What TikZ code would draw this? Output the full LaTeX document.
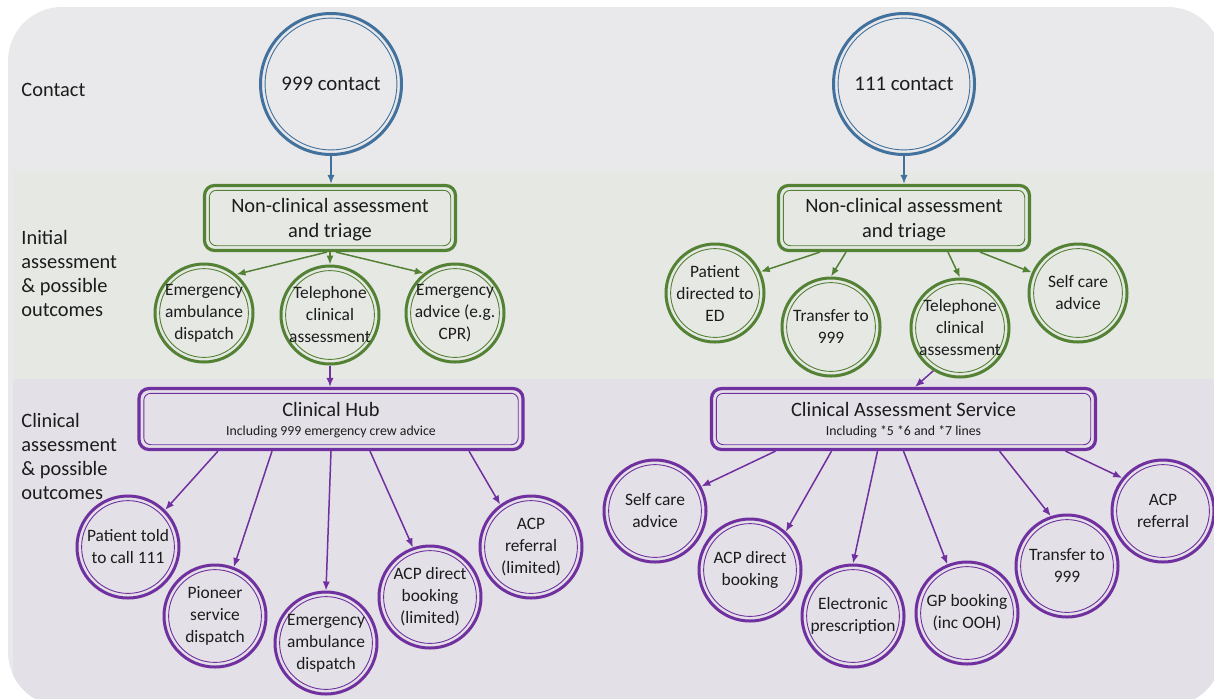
\documentclass[tikz,border=0pt]{standalone}
\usepackage{fontspec}
\setmainfont{Carlito}
\usetikzlibrary{arrows.meta}

\definecolor{ringblue}{RGB}{65,113,156}
\definecolor{ringgreen}{RGB}{84,130,53}
\definecolor{ringpurple}{RGB}{112,48,160}
\definecolor{bandtop}{RGB}{233,233,235}
\definecolor{bandmid}{RGB}{230,232,228}
\definecolor{bandlow}{RGB}{228,224,231}
\definecolor{inktext}{RGB}{28,28,28}

\tikzset{
	ring/.style 2 args={circle, draw=#1, line width=1.5pt, minimum size=#2, inner sep=-14pt,
		text=inktext, align=center, font=\fontsize{8.7}{11}\selectfont,
		path picture={\draw[#1, line width=.45pt] (path picture bounding box.center) circle[radius=#2/2-2.3pt];}},
	contactring/.style={ring={ringblue}{70.5pt}, font=\fontsize{10.4}{12}\selectfont},
	greenring/.style={ring={ringgreen}{49pt}},
	purplering/.style={ring={ringpurple}{51pt}},
	dbox/.style 2 args={rectangle, rounded corners=5pt, draw=#1, line width=1.6pt,
		minimum width=#2, text=inktext, align=center, text depth=0pt, font=\fontsize{10.2}{12.5}\selectfont,
		path picture={\draw[#1, line width=.45pt, rounded corners=3.5pt]
			([shift={(2.4pt,-2.4pt)}]path picture bounding box.north west) rectangle
			([shift={(-2.4pt,2.4pt)}]path picture bounding box.south east);}},
	greenbox/.style={dbox={ringgreen}{125.5pt}, minimum height=32.5pt},
	purplebox/.style={dbox={ringpurple}{192pt}, minimum height=30.5pt},
	rowlabel/.style={anchor=west, align=left, inner sep=0pt, text=inktext, font=\fontsize{10.2}{12}\selectfont},
	flow/.style={draw=#1, line width=.75pt, -{Latex[length=4.5pt,width=3.6pt]}}
}
\newcommand{\subline}[1]{{\fontsize{6.9}{8}\selectfont #1}}

\begin{document}
\begin{tikzpicture}[x=0.5pt,y=-0.5pt]
\useasboundingbox (0,0) rectangle (1214,698);
\fill[white] (0,0) rectangle (1214,698);
\begin{scope}
	\clip[rounded corners=27pt] (8,7) rectangle (1222,706);
	\fill[bandtop] (8,7) rectangle (1222,706);
	\fill[bandmid] (13,171) rectangle (1222,379);
	\fill[bandlow] (13,379) rectangle (1222,706);
\end{scope}

\node[rowlabel] (lcontact) at (21,90) {Contact};
\node[rowlabel] (linitial) at (21,273) {Initial\\assessment\\\& possible\\outcomes};
\node[rowlabel] (lclinical) at (21,456) {Clinical\\assessment\\\& possible\\outcomes};

% 999 side
\node[contactring] (c999) at (331,84) {999 contact};
\node[greenbox] (triage999) at (330,218) {Non-clinical assessment\\and triage};
\node[greenring] (ead1) at (204,313) {Emergency\\ambulance\\dispatch};
\node[greenring] (tca1) at (330,315) {Telephone\\clinical\\assessment};
\node[greenring] (ea1) at (455,313) {Emergency\\advice (e.g.\\CPR)};
\node[purplebox] (hub) at (331,419) {Clinical Hub\\[-3pt]\subline{Including 999 emergency crew advice}};
\node[purplering] (ptc) at (128,547) {Patient told\\to call 111};
\node[purplering] (psd) at (215,616) {Pioneer\\service\\dispatch};
\node[purplering] (ead2) at (326,643) {Emergency\\ambulance\\dispatch};
\node[purplering] (acpd1) at (430,597) {ACP direct\\booking\\(limited)};
\node[purplering] (acpr1) at (531,547) {ACP\\referral\\(limited)};

% 111 side
\node[contactring] (c111) at (904,84) {111 contact};
\node[greenbox] (triage111) at (904,218) {Non-clinical assessment\\and triage};
\node[greenring] (pde) at (715,293) {Patient\\directed to\\ED};
\node[greenring] (tr1) at (831,327) {Transfer to\\999};
\node[greenring] (tca2) at (960,328) {Telephone\\clinical\\assessment};
\node[greenring] (sca1) at (1078,293) {Self care\\advice};
\node[purplebox] (cas) at (903.5,419) {Clinical Assessment Service\\[-3pt]\subline{Including *5 *6 and *7 lines}};
\node[purplering] (sca2) at (655,511) {Self care\\advice};
\node[purplering] (acpd2) at (750,570) {ACP direct\\booking};
\node[purplering] (ep) at (853,616) {Electronic\\prescription};
\node[purplering] (gp) at (967,613) {GP booking\\(inc OOH)};
\node[purplering] (tr2) at (1067,566) {Transfer to\\999};
\node[purplering] (acpr2) at (1163,511) {ACP\\referral};

\draw[flow=ringblue] (c999) -- (c999 |- triage999.north);
\draw[flow=ringblue] (c111) -- (c111 |- triage111.north);

\foreach \dx/\to in {-1.5/ead1.50, 0/tca1.north, 3/ea1.128}
	\draw[flow=ringgreen] ([xshift=\dx pt]triage999.south) -- (\to);
\foreach \dx/\to in {-42/pde.25, -29/tr1.north, 22/tca2.north, 38/sca1.156}
	\draw[flow=ringgreen] ([xshift=\dx pt]triage111.south) -- (\to);

\draw[flow=ringpurple] (tca1) -- (tca1 |- hub.north);
\draw[flow=ringpurple] (tca2.238) -- ([xshift=5.75pt]cas.north);

\foreach \dx/\to in {-56.5/ptc.45, -29.5/psd.69, 0/ead2.north, 19.5/acpd1.109, 69/acpr1.126}
	\draw[flow=ringpurple] ([xshift=\dx pt]hub.south) -- (\to);
\foreach \dx/\to in {-64/sca2.28, -36/acpd2.47, -13/ep.north, 0/gp.112, 48/tr2.108, 81/acpr2.141}
	\draw[flow=ringpurple] ([xshift=\dx pt]cas.south) -- (\to);
\end{tikzpicture}
\end{document}
